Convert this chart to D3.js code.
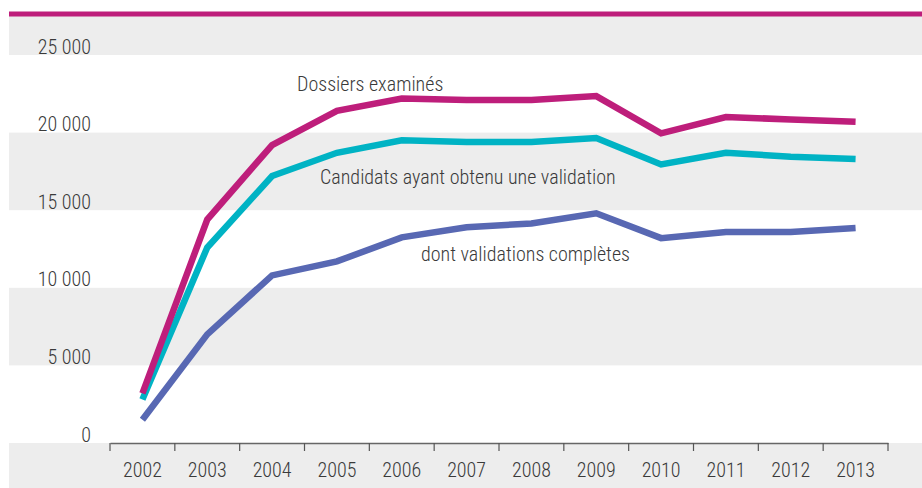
<!DOCTYPE html>
<html><head><meta charset="utf-8">
<script src="https://cdn.jsdelivr.net/npm/d3@7"></script>
<style>
body{margin:0;background:#fff;}
svg{display:block;}
text{font-family:"Roboto Condensed","Liberation Sans Narrow","DejaVu Sans Condensed",sans-serif;fill:#3a3a3a;font-weight:300;}
</style></head><body>
<svg id="c" width="922" height="488"></svg>
<script>
const years = ["2002","2003","2004","2005","2006","2007","2008","2009","2010","2011","2012","2013"];
const dossiers = [3200,14400,19200,21400,22200,22100,22100,22350,19950,21000,20850,20700];
const candidats = [2800,12600,17200,18700,19500,19400,19400,19650,17950,18700,18450,18300];
const completes = [1500,7000,10800,11700,13250,13900,14150,14800,13200,13600,13600,13850];
const yTicks = [0,5000,10000,15000,20000,25000];
const seriesNames = ["Dossiers examinés","Candidats ayant obtenu une validation","dont validations complètes"];
const colors = ["#be1e7b","#00b3c4","#5868b3"];

const svg = d3.select("#c");
const W = 922, H = 488;
const x = d3.scaleBand().domain(years).range([110, 888]).padding(0);
const y = d3.scaleLinear().domain([0, 25000]).range([443, 55]);
const fmt = v => v === 0 ? "0" : d3.format(",")(v).replace(/,/g, " ");
const FF = '"Roboto Condensed","Liberation Sans Narrow","DejaVu Sans Condensed",sans-serif';

// bands
const bandG = svg.append("g");
const bands = [[y(25000)-39, y(25000)], [y(20000), y(15000)], [y(10000), y(5000)], [y(0), H]];
bands.forEach(b => bandG.append("rect").attr("x", 9).attr("y", b[0]).attr("width", W-9).attr("height", b[1]-b[0]).attr("fill", "#ededed"));
// top rule
svg.append("rect").attr("x", 9).attr("y", 11.5).attr("width", W-9).attr("height", 5).attr("fill", "#be1e7b");

// y labels
svg.append("g").selectAll("text").data(yTicks).join("text")
  .attr("x", 91).attr("y", d => y(d) - 1.5).attr("text-anchor", "end")
  .attr("font-size", 20).text(fmt);

// x axis
const xAxis = d3.axisBottom(x).tickSize(0).tickFormat(d => d);
const ax = svg.append("g").attr("transform", `translate(0,${y(0)})`).call(xAxis);
ax.select(".domain").attr("stroke", "#666").attr("stroke-width", 1.5);
ax.selectAll(".tick text").attr("font-size", 20).attr("dy", 0).attr("y", 34).attr("fill", "#3a3a3a")
  .style("font-family", FF).style("font-weight", 300);
const tickPos = years.map(d => x(d)).concat([x(years[years.length-1]) + x.bandwidth()]);
ax.append("g").selectAll("line").data(tickPos).join("line")
  .attr("x1", d => d).attr("x2", d => d).attr("y1", 0).attr("y2", 8)
  .attr("stroke", "#555").attr("stroke-width", 1.2);

// lines
const line = d3.line().x((d, i) => x(years[i]) + x.bandwidth()/2).y(d => y(d));
[completes, candidats, dossiers].forEach((s, k) => {
  svg.append("path").datum(s).attr("d", line).attr("fill", "none")
    .attr("stroke", colors[2-k]).attr("stroke-width", 6.5).attr("stroke-linejoin", "miter");
});

// labels
const lab = svg.append("g").attr("font-size", 20);
lab.append("text").attr("x", 297).attr("y", 91).text(seriesNames[0]);
lab.append("text").attr("x", 320).attr("y", 184).text(seriesNames[1]);
lab.append("text").attr("x", 421).attr("y", 261).text(seriesNames[2]);
</script>
</body></html>
